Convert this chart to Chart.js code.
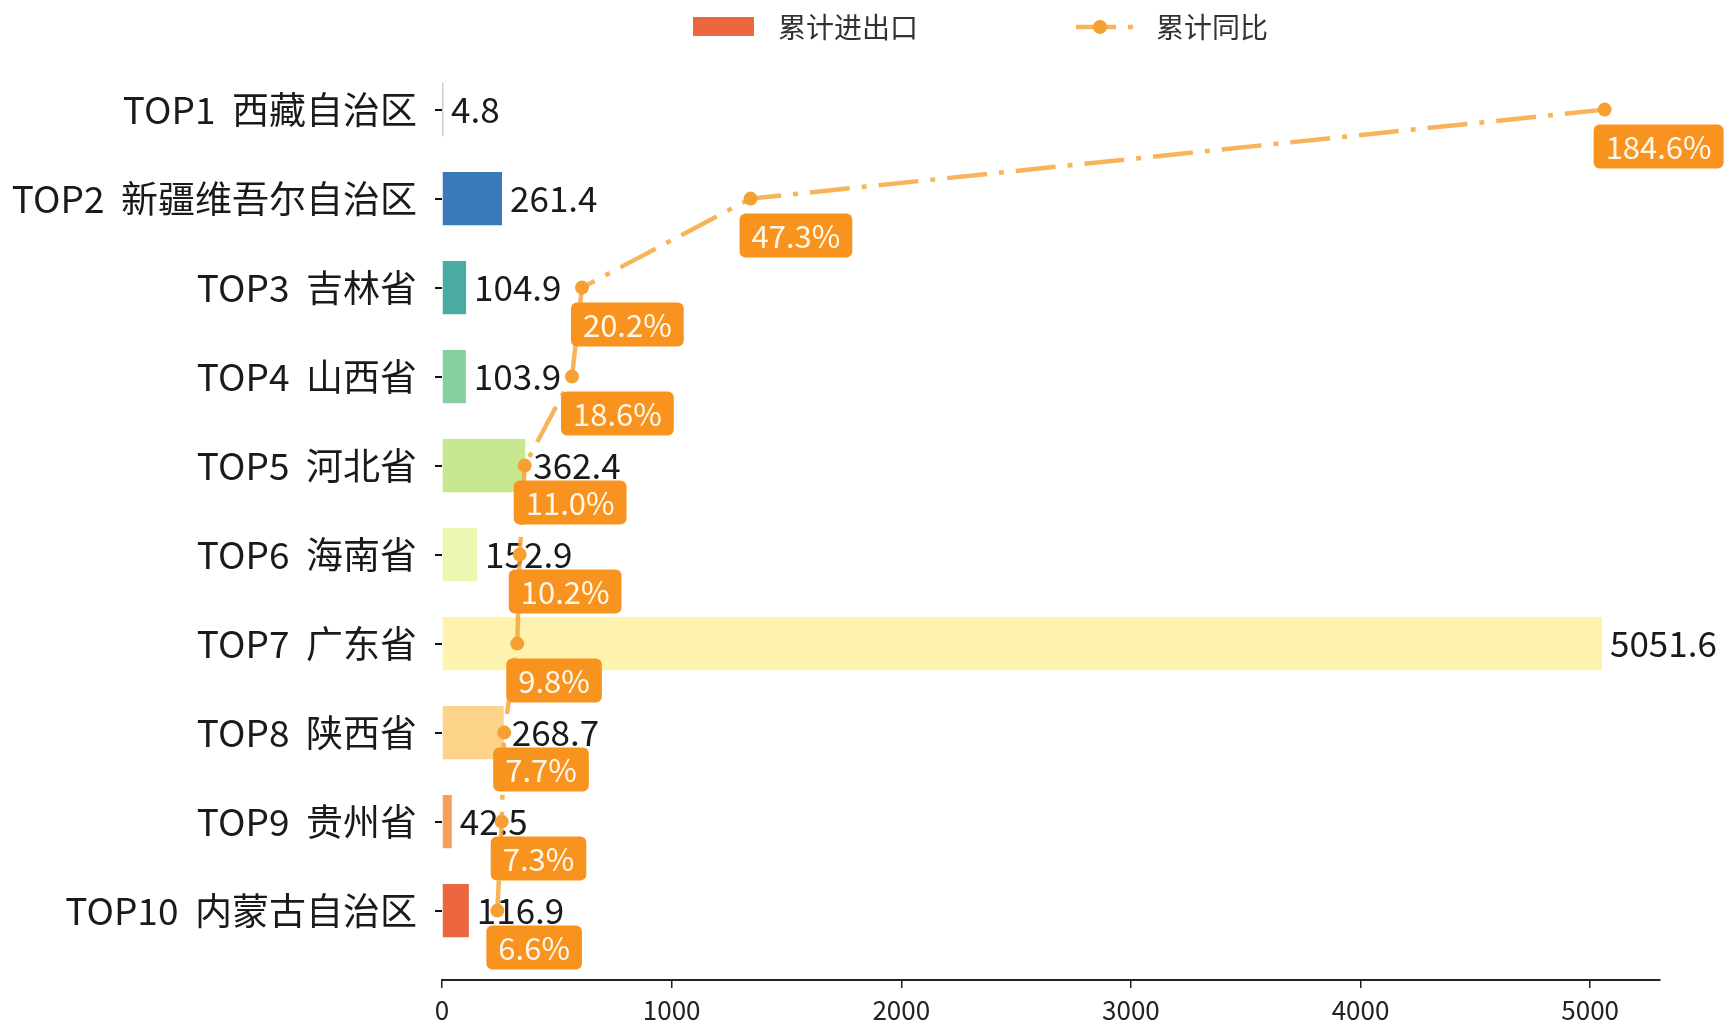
<!DOCTYPE html>
<html><head><meta charset="utf-8">
<script src="https://cdn.jsdelivr.net/npm/chart.js@4.4.1/dist/chart.umd.min.js"></script>
<style>html,body{margin:0;padding:0;background:#fff;}canvas{display:block;}</style>
</head><body>
<canvas id="c" width="1730" height="1029"></canvas>
<script>
// ---- data ----
const categories = ['TOP1  西藏自治区', 'TOP2  新疆维吾尔自治区', 'TOP3  吉林省', 'TOP4  山西省', 'TOP5  河北省',
                    'TOP6  海南省', 'TOP7  广东省', 'TOP8  陕西省', 'TOP9  贵州省', 'TOP10  内蒙古自治区'];
const tradeValues = [4.8, 261.4, 104.9, 103.9, 362.4, 152.9, 5051.6, 268.7, 42.5, 116.9];
const yoyPercent = [184.6, 47.3, 20.2, 18.6, 11.0, 10.2, 9.8, 7.7, 7.3, 6.6];
const xTickValues = [0, 1000, 2000, 3000, 4000, 5000];
const seriesNames = ['累计进出口', '累计同比'];
const barColors = ['#2e2a55', '#3a7ab8', '#4aaca0', '#86cfa0', '#c8e890', '#eef7b2', '#fdf3ae', '#fdd38a', '#f5a05a', '#ec6640'];

const FONT = '"Noto Sans CJK SC", "Noto Sans", sans-serif';
Chart.defaults.font.family = FONT;

const lineColor = 'rgba(246,163,55,0.82)';
const pointColor = '#f6a034';
const boxColor = '#f7931e';

// axis ranges (matplotlib-like 5% margins)
const n = categories.length;
const yMin = -0.3 - 0.05 * (n - 1 + 0.6);
const yMax = (n - 1) + 0.3 + 0.05 * (n - 1 + 0.6);
const xMax = Math.max(...tradeValues) * 1.05;
const pLo = Math.min(...yoyPercent), pHi = Math.max(...yoyPercent);
const x2Min = pLo - 0.05 * (pHi - pLo), x2Max = pHi + 0.05 * (pHi - pLo);

const valueLabels = {
  id: 'valueLabels',
  afterDatasetDraw(chart, args) {
    if (args.index !== 0) return;
    const ctx = chart.ctx;
    ctx.save();
    ctx.font = '35px ' + FONT;
    ctx.fillStyle = '#1a1a1a';
    ctx.textBaseline = 'middle';
    ctx.textAlign = 'left';
    args.meta.data.forEach((el, i) => {
      ctx.fillText(tradeValues[i].toFixed(1), el.x + 8, el.y);
    });
    ctx.restore();
  }
};

const pctLabels = {
  id: 'pctLabels',
  afterDatasetsDraw(chart) {
    const meta = chart.getDatasetMeta(1);
    const ctx = chart.ctx;
    ctx.save();
    ctx.font = '31px ' + FONT;
    ctx.textBaseline = 'middle';
    ctx.textAlign = 'left';
    meta.data.forEach((el, i) => {
      const txt = yoyPercent[i].toFixed(1) + '%';
      const w = ctx.measureText(txt).width + 24;
      const h = 44;
      const bx = el.x - 11, by = el.y + 15;
      ctx.fillStyle = boxColor;
      ctx.beginPath();
      ctx.roundRect(bx, by, w, h, 6);
      ctx.fill();
      ctx.fillStyle = '#fff8ea';
      ctx.fillText(txt, bx + 12, by + h / 2 + 1);
    });
    ctx.restore();
  }
};

const customLegend = {
  id: 'customLegend',
  afterDraw(chart) {
    const ctx = chart.ctx;
    ctx.save();
    const cy = 27;
    ctx.fillStyle = barColors[barColors.length - 1];
    ctx.fillRect(693, 17, 61, 19);
    ctx.font = '28px ' + FONT;
    ctx.fillStyle = '#333';
    ctx.textBaseline = 'middle';
    ctx.fillText(seriesNames[0], 778, cy);
    ctx.strokeStyle = lineColor;
    ctx.lineWidth = 4.5;
    ctx.setLineDash([40, 12, 5, 12]);
    ctx.beginPath();
    ctx.moveTo(1076, cy);
    ctx.lineTo(1136, cy);
    ctx.stroke();
    ctx.setLineDash([]);
    ctx.fillStyle = pointColor;
    ctx.beginPath();
    ctx.arc(1100, cy, 7, 0, Math.PI * 2);
    ctx.fill();
    ctx.fillStyle = '#333';
    ctx.fillText(seriesNames[1], 1156, cy);
    ctx.restore();
  }
};

new Chart(document.getElementById('c'), {
  data: {
    datasets: [
      {
        type: 'bar',
        label: seriesNames[0],
        indexAxis: 'y',
        xAxisID: 'x',
        yAxisID: 'y',
        data: tradeValues.map((v, i) => ({ x: v, y: i })),
        backgroundColor: barColors,
        borderWidth: 0,
        categoryPercentage: 1,
        barPercentage: 0.6,
        order: 1
      },
      {
        type: 'line',
        label: seriesNames[1],
        indexAxis: 'y',
        xAxisID: 'x2',
        yAxisID: 'y',
        data: yoyPercent.map((v, i) => ({ x: v, y: i })),
        borderColor: lineColor,
        borderWidth: 4.5,
        borderDash: [40, 12, 5, 12],
        pointRadius: 7,
        pointBackgroundColor: pointColor,
        pointBorderWidth: 0,
        tension: 0,
        fill: false,
        order: 0
      }
    ]
  },
  options: {
    responsive: false,
    animation: false,
    devicePixelRatio: 1,
    indexAxis: 'y',
    layout: { padding: { left: 0, top: 36, right: 70, bottom: 0 } },
    plugins: { legend: { display: false }, tooltip: { enabled: false } },
    scales: {
      x: {
        type: 'linear',
        position: 'bottom',
        min: 0,
        max: xMax,
        offset: false,
        afterBuildTicks(s) { s.ticks = xTickValues.map(v => ({ value: v })); },
        afterFit(s) { s.height = 49; },
        grid: { display: true, offset: false, drawOnChartArea: false, drawTicks: true, tickLength: 8, color: '#222', lineWidth: 1.5 },
        border: { display: true, color: '#222', width: 2 },
        ticks: { font: { size: 26 }, color: '#222', padding: 7, maxRotation: 0, callback: v => String(v) }
      },
      x2: {
        type: 'linear',
        position: 'top',
        display: false,
        offset: false,
        min: x2Min,
        max: x2Max
      },
      y: {
        type: 'linear',
        reverse: true,
        offset: false,
        min: yMin,
        max: yMax,
        afterBuildTicks(s) { s.ticks = categories.map((c, i) => ({ value: i })); },
        afterFit(s) { s.width = 442; },
        grid: { display: true, offset: false, drawOnChartArea: false, drawTicks: true, tickLength: 7, color: '#111', lineWidth: 2 },
        border: { display: false },
        ticks: { font: { size: 37 }, color: '#1a1a1a', padding: 18, autoSkip: false, callback: v => categories[v] }
      }
    }
  },
  plugins: [valueLabels, pctLabels, customLegend]
});
</script>
</body></html>
